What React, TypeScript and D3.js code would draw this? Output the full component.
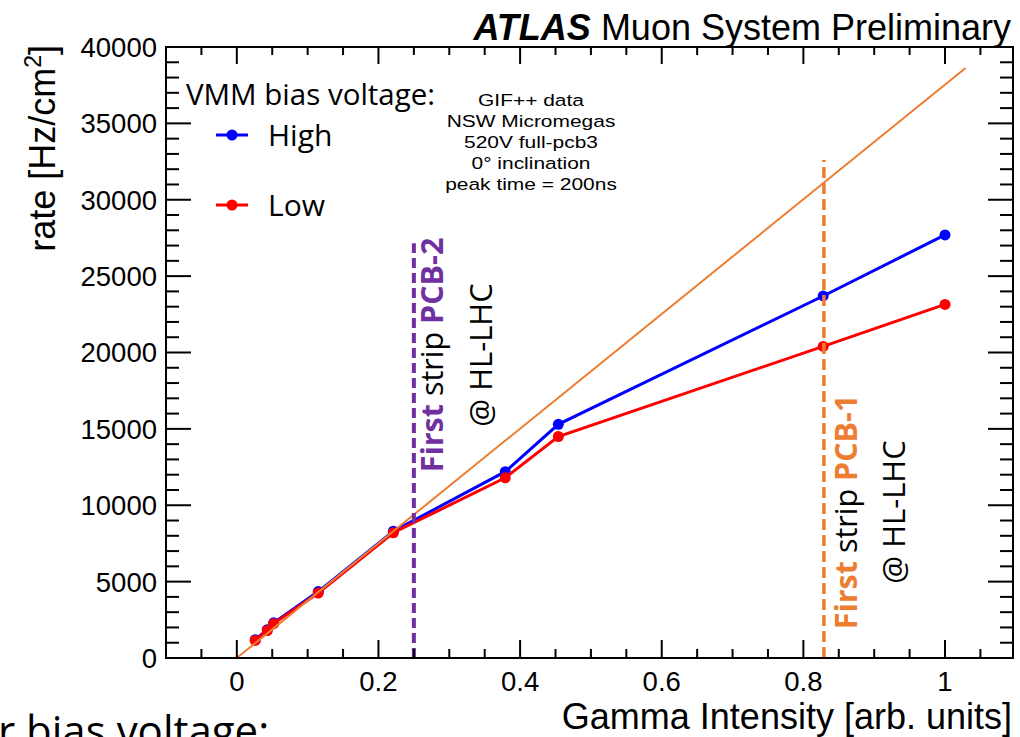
import React from "react";
import * as d3 from "d3";

// values
const gamma = [0.026, 0.043, 0.052, 0.115, 0.221, 0.379, 0.454, 0.828, 1.0];
const rateHigh = [1200, 1850, 2300, 4350, 8300, 12200, 15300, 23700, 27700];
const rateLow = [1150, 1800, 2250, 4250, 8200, 11800, 14500, 20400, 23150];
const fitLine = [
  [0, 0],
  [1.029, 38625],
];
const pcb2 = { x: 0.25, top: 27150 };
const pcb1 = { x: 0.829, top: 32600 };
const xTicks = [0, 0.2, 0.4, 0.6, 0.8, 1];
const yTicks = [0, 5000, 10000, 15000, 20000, 25000, 30000, 35000, 40000];
const infoLines = [
  "GIF++ data",
  "NSW Micromegas",
  "520V full-pcb3",
  "0° inclination",
  "peak time = 200ns",
];

const W = 1020,
  H = 737;
const left = 166,
  right = 1013,
  top = 47,
  bottom = 658;

const BLUE = "#0000ff";
const RED = "#ff0000";
const ORANGE = "#ED7D31";
const PURPLE = "#7030A0";
const helv = "'Liberation Sans', Arial, sans-serif";
const calib = "'Open Sans', sans-serif";

export default function App() {
  const x = d3.scaleLinear().domain([-0.1, 1.096]).range([left, right]);
  const y = d3.scaleLinear().domain([0, 40000]).range([bottom, top]);

  const line = d3
    .line<number>()
    .x((_, i) => x(gamma[i]))
    .y((d) => y(d));

  const xMinor = d3.range(-0.05, 1.096, 0.05).filter(
    (v) => !xTicks.some((t) => Math.abs(t - v) < 1e-6)
  );
  const yMinor = d3.range(1000, 40000, 1000).filter((v) => v % 5000 !== 0);

  const series = [
    { vals: rateHigh, color: BLUE },
    { vals: rateLow, color: RED },
  ];

  return (
    <svg
      width={W}
      height={H}
      style={{ position: "absolute", left: 0, top: 0, background: "#fff" }}
    >
      {/* title */}
      <text x={1011} y={40} textAnchor="end" fontFamily={helv} fontSize={36}>
        <tspan fontWeight="bold" fontStyle="italic">ATLAS</tspan>
        <tspan> Muon System Preliminary</tspan>
      </text>

      {/* data */}
      {series.map((s) => (
        <g key={s.color}>
          <path d={line(s.vals) || ""} fill="none" stroke={s.color} strokeWidth={3} />
          {s.vals.map((v, i) => (
            <circle key={i} cx={x(gamma[i])} cy={y(v)} r={5.5} fill={s.color} />
          ))}
        </g>
      ))}

      {/* fit line */}
      <line
        x1={x(fitLine[0][0])}
        y1={y(fitLine[0][1])}
        x2={x(fitLine[1][0])}
        y2={y(fitLine[1][1])}
        stroke={ORANGE}
        strokeWidth={2}
      />

      {/* pcb markers */}
      <line
        x1={x(pcb2.x)}
        x2={x(pcb2.x)}
        y1={y(0)}
        y2={y(pcb2.top)}
        stroke={PURPLE}
        strokeWidth={4}
        strokeDasharray="10 5"
      />
      <line
        x1={x(pcb1.x)}
        x2={x(pcb1.x)}
        y1={y(0)}
        y2={y(pcb1.top)}
        stroke={ORANGE}
        strokeWidth={3.5}
        strokeDasharray="11 5"
      />

      <text
        transform={`translate(443,355) rotate(-90)`}
        textAnchor="middle"
        fontFamily={calib}
        fontSize={30.5}
      >
        <tspan fill={PURPLE} fontWeight="bold">First</tspan>
        <tspan fill="#000"> strip </tspan>
        <tspan fill={PURPLE} fontWeight="bold">PCB-2</tspan>
      </text>
      <text
        transform={`translate(492,355) rotate(-90)`}
        textAnchor="middle"
        fontFamily={calib}
        fontSize={31}
      >
        @ HL-LHC
      </text>
      <text
        transform={`translate(857,512) rotate(-90)`}
        textAnchor="middle"
        fontFamily={calib}
        fontSize={30.5}
      >
        <tspan fill={ORANGE} fontWeight="bold">First</tspan>
        <tspan fill="#000"> strip </tspan>
        <tspan fill={ORANGE} fontWeight="bold">PCB-1</tspan>
      </text>
      <text
        transform={`translate(905,512) rotate(-90)`}
        textAnchor="middle"
        fontFamily={calib}
        fontSize={31}
      >
        @ HL-LHC
      </text>

      {/* frame + ticks */}
      <rect
        x={left}
        y={top}
        width={right - left}
        height={bottom - top}
        fill="none"
        stroke="#000"
        strokeWidth={2}
      />
      <g stroke="#000" strokeWidth={2}>
        {xTicks.map((t) => (
          <g key={"xm" + t}>
            <line x1={x(t)} x2={x(t)} y1={bottom} y2={bottom - 18} />
            <line x1={x(t)} x2={x(t)} y1={top} y2={top + 17} />
          </g>
        ))}
        {xMinor.map((t) => (
          <g key={"xn" + t}>
            <line x1={x(t)} x2={x(t)} y1={bottom} y2={bottom - 9} />
            <line x1={x(t)} x2={x(t)} y1={top} y2={top + 8} />
          </g>
        ))}
        {yTicks.map((t) => (
          <g key={"ym" + t}>
            <line x1={left} x2={left + 25} y1={y(t)} y2={y(t)} />
            <line x1={right} x2={right - 25} y1={y(t)} y2={y(t)} />
          </g>
        ))}
        {yMinor.map((t) => (
          <g key={"yn" + t}>
            <line x1={left} x2={left + 13} y1={y(t)} y2={y(t)} />
            <line x1={right} x2={right - 13} y1={y(t)} y2={y(t)} />
          </g>
        ))}
      </g>

      {/* tick labels */}
      <g fontFamily={helv} fontSize={27.5}>
        {yTicks.map((t) => (
          <text key={t} x={157} y={y(t)} dy="0.36em" textAnchor="end">
            {t}
          </text>
        ))}
        {xTicks.map((t) => (
          <text key={t} x={x(t)} y={691} textAnchor="middle">
            {d3.format("~g")(t)}
          </text>
        ))}
      </g>

      {/* axis titles */}
      <text
        transform={`translate(55,45) rotate(-90)`}
        textAnchor="end"
        fontFamily={helv}
        fontSize={36}
      >
        rate [Hz/cm
        <tspan fontSize={23} dy={-14}>2</tspan>
        <tspan dy={14}>]</tspan>
      </text>
      <text x={1012} y={729} textAnchor="end" fontFamily={helv} fontSize={36}>
        Gamma Intensity [arb. units]
      </text>

      {/* legend */}
      <text x={186} y={105} fontFamily={calib} fontSize={29.5} fontWeight={500}>
        VMM bias voltage:
      </text>
      {[
        { label: "High", color: BLUE, yy: 135 },
        { label: "Low", color: RED, yy: 205 },
      ].map((d) => (
        <g key={d.label}>
          <line x1={216} x2={248} y1={d.yy} y2={d.yy} stroke={d.color} strokeWidth={3} />
          <circle cx={232} cy={d.yy} r={5.5} fill={d.color} />
          <text x={268} y={d.yy} dy="0.36em" fontFamily={calib} fontSize={30} fontWeight={500}>
            {d.label}
          </text>
        </g>
      ))}

      {/* info block */}
      <g fontFamily={helv} fontSize={16.5} textAnchor="middle">
        {infoLines.map((s, i) => (
          <text
            key={s}
            transform={`translate(531,${106 + i * 21}) scale(1.27,1)`}
          >
            {s}
          </text>
        ))}
      </g>

      {/* cut-off text at bottom */}
      <text x={-2} y={746} fontFamily={calib} fontSize={42}>
        r bias voltage:
      </text>
    </svg>
  );
}
